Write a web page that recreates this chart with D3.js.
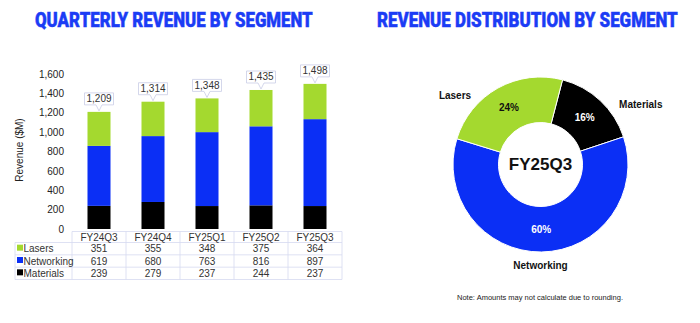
<!DOCTYPE html>
<html lang="en">
<head>
<meta charset="utf-8">
<title>Revenue by segment</title>
<script src="https://cdn.jsdelivr.net/npm/d3@7/dist/d3.min.js"></script>
<style>
  body { margin: 0; background: #fff; }
  text { font-family: "Liberation Sans", Arial, sans-serif; }
  .title { font-family: Roboto, sans-serif; font-weight: 900; fill: #1b3cf5; stroke: #1b3cf5; stroke-width: 0.5; }
</style>
</head>
<body>
<script>
// quarterly revenue, $M
var quarters = ["FY24Q3", "FY24Q4", "FY25Q1", "FY25Q2", "FY25Q3"];
var segments = ["Materials", "Networking", "Lasers"];
var lasers = [351, 355, 348, 375, 364];
var networking = [619, 680, 763, 816, 897];
var materials = [239, 279, 237, 244, 237];
var totals = [1209, 1314, 1348, 1435, 1498];
var yTicks = [0, 200, 400, 600, 800, 1000, 1200, 1400, 1600];

// donut: latest quarter split, drawn clockwise from Materials
var pieSegments = ["Materials", "Networking", "Lasers"];
var pieValues = [237, 897, 364];
var piePct = ["16%", "60%", "24%"];

var colors = { Lasers: "#a4d92f", Networking: "#0b2ff5", Materials: "#000000" };

var W = 700, H = 323;
var svg = d3.select("body").append("svg").attr("width", W).attr("height", H);

// titles, squeezed horizontally to a condensed look
function title(text, x0, width) {
  var t = svg.append("text").attr("class", "title").attr("font-size", 21).text(text);
  var w = t.node().getComputedTextLength();
  t.attr("transform", "translate(" + x0 + ",27) scale(" + (width / w) + ",1)");
}
title("QUARTERLY REVENUE BY SEGMENT", 35, 278);
title("REVENUE DISTRIBUTION BY SEGMENT", 377, 301);

// ---- stacked bars ----
var x = d3.scaleBand().domain(quarters).range([72, 342]).paddingInner(0.574).paddingOuter(0.287);
var y = d3.scaleLinear().domain([0, 1600]).range([229, 74]);

var rows = quarters.map(function(q, i) {
  return { q: q, Lasers: lasers[i], Networking: networking[i], Materials: materials[i], total: totals[i] };
});
var stack = d3.stack().keys(segments)(rows);

var yAxis = svg.append("g").attr("transform", "translate(68,0)")
  .call(d3.axisLeft(y).tickValues(yTicks).tickSize(0).tickPadding(4).tickFormat(d3.format(",")));
yAxis.select(".domain").remove();
yAxis.selectAll("text").attr("font-size", 10).attr("fill", "#222")
  .style("font-family", "'Liberation Sans', Arial, sans-serif");

svg.append("text")
  .attr("transform", "translate(23,150) rotate(-90)")
  .attr("text-anchor", "middle").attr("font-size", 10).attr("fill", "#222")
  .text("Revenue ($M)");

svg.append("g").selectAll("g").data(stack).join("g")
  .attr("fill", function(d) { return colors[d.key]; })
  .selectAll("rect").data(function(d) { return d; }).join("rect")
  .attr("x", function(d) { return x(d.data.q); })
  .attr("width", x.bandwidth())
  .attr("y", function(d) { return y(d[1]); })
  .attr("height", function(d) { return y(d[0]) - y(d[1]); });

// total callouts above each bar
var callouts = svg.append("g").selectAll("g").data(rows).join("g")
  .attr("transform", function(d) { return "translate(" + (x(d.q) + x.bandwidth() / 2) + "," + y(d.total) + ")"; });
callouts.append("path")
  .attr("d", "M-14.5,-19 H14.5 V-7 H3 L0,-1 L-3,-7 H-14.5 Z")
  .attr("fill", "#fff").attr("stroke", "#c9cde6").attr("stroke-width", 0.8);
callouts.append("text")
  .attr("y", -9.5).attr("text-anchor", "middle").attr("font-size", 10).attr("fill", "#333")
  .text(function(d) { return d3.format(",")(d.total); });

// ---- data table under the bars ----
var tableRows = [
  { name: "Lasers", vals: lasers },
  { name: "Networking", vals: networking },
  { name: "Materials", vals: materials }
];
var rowY = d3.scaleBand().domain(tableRows.map(function(r) { return r.name; })).range([242.5, 279.5]);
var grid = svg.append("g").attr("stroke", "#d6d9f0").attr("stroke-width", 0.8).attr("fill", "none");
var colEdges = d3.range(quarters.length + 1).map(function(i) { return 72 + i * x.step(); });
grid.append("path").attr("d", "M72,231.5 H" + colEdges[5]);
grid.append("path").attr("d", "M15,242.5 H" + colEdges[5]);
tableRows.forEach(function(r) {
  grid.append("path").attr("d", "M15," + (rowY(r.name) + rowY.bandwidth()) + " H" + colEdges[5]);
});
grid.append("path").attr("d", "M15,242.5 V279.5");
colEdges.forEach(function(cx) {
  grid.append("path").attr("d", "M" + cx + ",231.5 V279.5");
});

svg.append("g").selectAll("text").data(quarters).join("text")
  .attr("x", function(d) { return x(d) + x.bandwidth() / 2; })
  .attr("y", 240.5).attr("text-anchor", "middle").attr("font-size", 10).attr("fill", "#333")
  .text(function(d) { return d; });

var tr = svg.append("g").selectAll("g").data(tableRows).join("g")
  .attr("transform", function(r) { return "translate(0," + (rowY(r.name) + rowY.bandwidth() / 2 + 3.5) + ")"; });
tr.append("rect").attr("x", 17).attr("y", -7.5).attr("width", 6).attr("height", 6)
  .attr("fill", function(r) { return colors[r.name]; });
tr.append("text").attr("x", 23.5).attr("font-size", 10).attr("fill", "#333")
  .text(function(r) { return r.name; });
tr.selectAll("text.v").data(function(r) { return r.vals; }).join("text")
  .attr("class", "v")
  .attr("x", function(d, i) { return x(quarters[i]) + x.bandwidth() / 2; })
  .attr("text-anchor", "middle").attr("font-size", 10).attr("fill", "#333")
  .text(function(d) { return d; });

// ---- donut ----
var cx = 540.5, cy = 164.5, rOuter = 87.5, rInner = 42;
var start = 14.6 * Math.PI / 180;
var pie = d3.pie().sort(null).startAngle(start).endAngle(start + 2 * Math.PI);
var arcs = pie(pieValues);
var arc = d3.arc().innerRadius(rInner).outerRadius(rOuter);
var donut = svg.append("g").attr("transform", "translate(" + cx + "," + cy + ")");

donut.selectAll("path").data(arcs).join("path")
  .attr("d", arc)
  .attr("fill", function(d, i) { return colors[pieSegments[i]]; })
  .attr("stroke", "#fff").attr("stroke-width", 1);

donut.selectAll("text.pct").data(arcs).join("text")
  .attr("class", "pct")
  .attr("transform", function(d) { return "translate(" + arc.centroid(d) + ")"; })
  .attr("dy", "0.35em").attr("text-anchor", "middle")
  .attr("font-size", 10).attr("font-weight", "bold")
  .attr("fill", function(d, i) { return pieSegments[i] === "Lasers" ? "#111" : "#fff"; })
  .text(function(d, i) { return piePct[i]; });

donut.append("text")
  .attr("dy", "0.35em").attr("text-anchor", "middle")
  .attr("font-size", 17).attr("font-weight", "bold").attr("fill", "#111")
  .text("FY25Q3");

// outside labels: angle (deg from 12 o'clock) and radius from centre
var labelPos = { Materials: [59, 117], Networking: [180, 101], Lasers: [309, 110] };
donut.selectAll("text.lbl").data(pieSegments).join("text")
  .attr("class", "lbl")
  .attr("x", function(d) { return Math.sin(labelPos[d][0] * Math.PI / 180) * labelPos[d][1]; })
  .attr("y", function(d) { return -Math.cos(labelPos[d][0] * Math.PI / 180) * labelPos[d][1]; })
  .attr("dy", "0.35em").attr("text-anchor", "middle")
  .attr("font-size", 10).attr("font-weight", "bold").attr("fill", "#111")
  .text(function(d) { return d; });

svg.append("text")
  .attr("x", 540).attr("y", 300).attr("text-anchor", "middle")
  .attr("font-size", 7.5).attr("fill", "#222")
  .text("Note: Amounts may not calculate due to rounding.");
</script>
</body>
</html>
